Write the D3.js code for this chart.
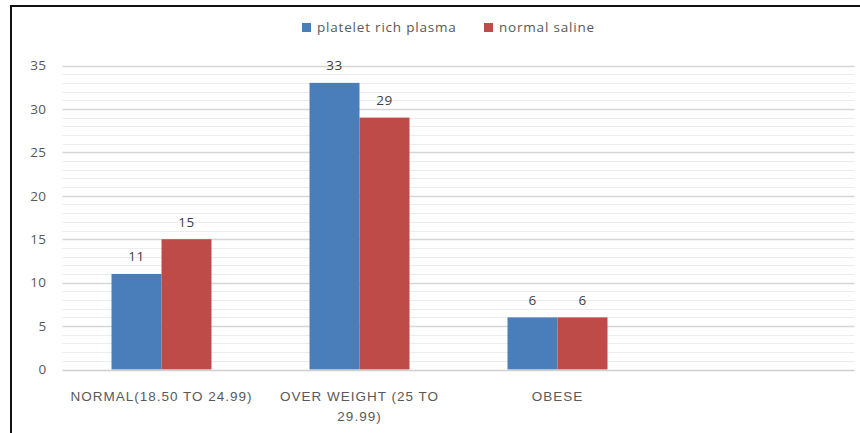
<!DOCTYPE html>
<html>
<head>
<meta charset="utf-8">
<script src="https://cdn.jsdelivr.net/npm/d3@7"></script>
<style>
  html, body { margin: 0; padding: 0; background: #fff; }
  svg { display: block; font-family: "Open Sans", "Noto Sans", sans-serif; }
</style>
</head>
<body>
<svg id="chart" width="860" height="433"></svg>
<script>
// BMI groups (the fourth slot is left empty)
const categories = ["NORMAL(18.50 TO 24.99)", "OVER WEIGHT (25 TO 29.99)", "OBESE", ""];
const seriesNames = ["platelet rich plasma", "normal saline"];
const prpValues = [11, 33, 6, null];
const salineValues = [15, 29, 6, null];
const yTicks = [0, 5, 10, 15, 20, 25, 30, 35];

const colors = ["#4a7ebb", "#be4b48"];
const seriesValues = [prpValues, salineValues];
const textColor = "#595959";

const svg = d3.select("#chart");
const margin = { left: 62.5, right: 5.5, top: 65.5, bottom: 63.5 };
const W = 860, H = 433;

// frame lines
svg.append("path")
  .attr("d", "M11,433 V6 H860")
  .attr("fill", "none")
  .attr("stroke", "#111")
  .attr("stroke-width", 2);

const x = d3.scaleBand()
  .domain(d3.range(categories.length))
  .range([margin.left, W - margin.right])
  .paddingInner(0.495)
  .paddingOuter(0.2475);

const xSub = d3.scaleBand()
  .domain(d3.range(seriesNames.length))
  .range([0, x.bandwidth()]);

const y = d3.scaleLinear()
  .domain([0, 35])
  .range([H - margin.bottom, margin.top]);

// minor gridlines
svg.append("g")
  .selectAll("line")
  .data(d3.range(0, 36).filter(v => v % 5 !== 0))
  .join("line")
  .attr("x1", margin.left).attr("x2", W - margin.right)
  .attr("y1", d => Math.round(y(d)) + 0.5).attr("y2", d => Math.round(y(d)) + 0.5)
  .attr("stroke", "#ececec").attr("stroke-width", 1);

// major gridlines
svg.append("g")
  .selectAll("line")
  .data(yTicks.filter(v => v > 0))
  .join("line")
  .attr("x1", margin.left).attr("x2", W - margin.right)
  .attr("y1", d => Math.round(y(d)) + 0.5).attr("y2", d => Math.round(y(d)) + 0.5)
  .attr("stroke", "#d6d6d6").attr("stroke-width", 1.5);

// y axis labels
const yAxis = d3.axisLeft(y).tickValues(yTicks).tickSize(0).tickPadding(0);
const yg = svg.append("g")
  .attr("transform", `translate(${margin.left - 16},0)`)
  .call(yAxis);
yg.select(".domain").remove();
yg.selectAll("text")
  .attr("fill", textColor)
  .style("font-size", "13.5px")
  .style("letter-spacing", "0.4px")
  .style("font-family", "'Open Sans', sans-serif");

// bars
const groups = svg.append("g")
  .selectAll("g")
  .data(categories.map((c, i) => i))
  .join("g")
  .attr("transform", i => `translate(${x(i)},0)`);

const cells = i => seriesValues.map((vals, s) => ({ s, v: vals[i] })).filter(d => d.v != null);

groups.selectAll("rect")
  .data(cells)
  .join("rect")
  .attr("x", d => xSub(d.s))
  .attr("width", xSub.bandwidth())
  .attr("y", d => y(d.v))
  .attr("height", d => y(0) - y(d.v))
  .attr("fill", d => colors[d.s]);

// value labels
groups.selectAll("text.val")
  .data(cells)
  .join("text")
  .attr("class", "val")
  .attr("x", d => xSub(d.s) + xSub.bandwidth() / 2)
  .attr("y", d => y(d.v) - 12.5)
  .attr("text-anchor", "middle")
  .attr("fill", "#404040")
  .style("font-size", "13.5px")
  .style("letter-spacing", "0.4px")
  .text(d => d.v);

// x axis baseline
svg.append("line")
  .attr("x1", margin.left).attr("x2", W - margin.right)
  .attr("y1", Math.round(y(0)) + 0.5).attr("y2", Math.round(y(0)) + 0.5)
  .attr("stroke", "#cfcfcf").attr("stroke-width", 1.5);

// category labels, wrapped to the slot width
const xAxis = d3.axisBottom(x).tickFormat(i => categories[i]).tickSize(0).tickPadding(0);
const xg = svg.append("g")
  .attr("transform", `translate(0,${y(0) + 31})`)
  .call(xAxis);
xg.select(".domain").remove();
xg.selectAll("text")
  .attr("fill", textColor)
  .attr("dy", 0)
  .attr("y", 0)
  .style("font-size", "13.5px")
  .style("letter-spacing", "1px")
  .each(function(i) {
    const t = d3.select(this);
    const label = categories[i];
    const maxW = x.step() - 4;
    const words = label.split(" ");
    t.text(null);
    let line = [];
    const lines = [];
    const probe = t.append("tspan");
    words.forEach(w => {
      probe.text(line.concat([w]).join(" "));
      if (probe.node().getComputedTextLength() > maxW && line.length) {
        lines.push(line.join(" "));
        line = [w];
      } else {
        line.push(w);
      }
    });
    if (line.length) lines.push(line.join(" "));
    probe.remove();
    lines.forEach((l, k) => {
      t.append("tspan").attr("x", 0).attr("dy", k === 0 ? 0 : 20).text(l);
    });
  });

// legend
const legendData = seriesNames.map((n, s) => ({ n, s }));
const legendX = [302, 484];
const li = svg.append("g")
  .selectAll("g")
  .data(legendData)
  .join("g")
  .attr("transform", d => `translate(${legendX[d.s]},23)`);
li.append("rect")
  .attr("x", 0).attr("y", 0)
  .attr("width", 9).attr("height", 9)
  .attr("fill", d => colors[d.s]);
li.append("text")
  .attr("x", 15)
  .attr("y", 8.5)
  .attr("fill", textColor)
  .style("font-size", "13.5px")
  .style("letter-spacing", "0.8px")
  .text(d => d.n);
</script>
</body>
</html>
